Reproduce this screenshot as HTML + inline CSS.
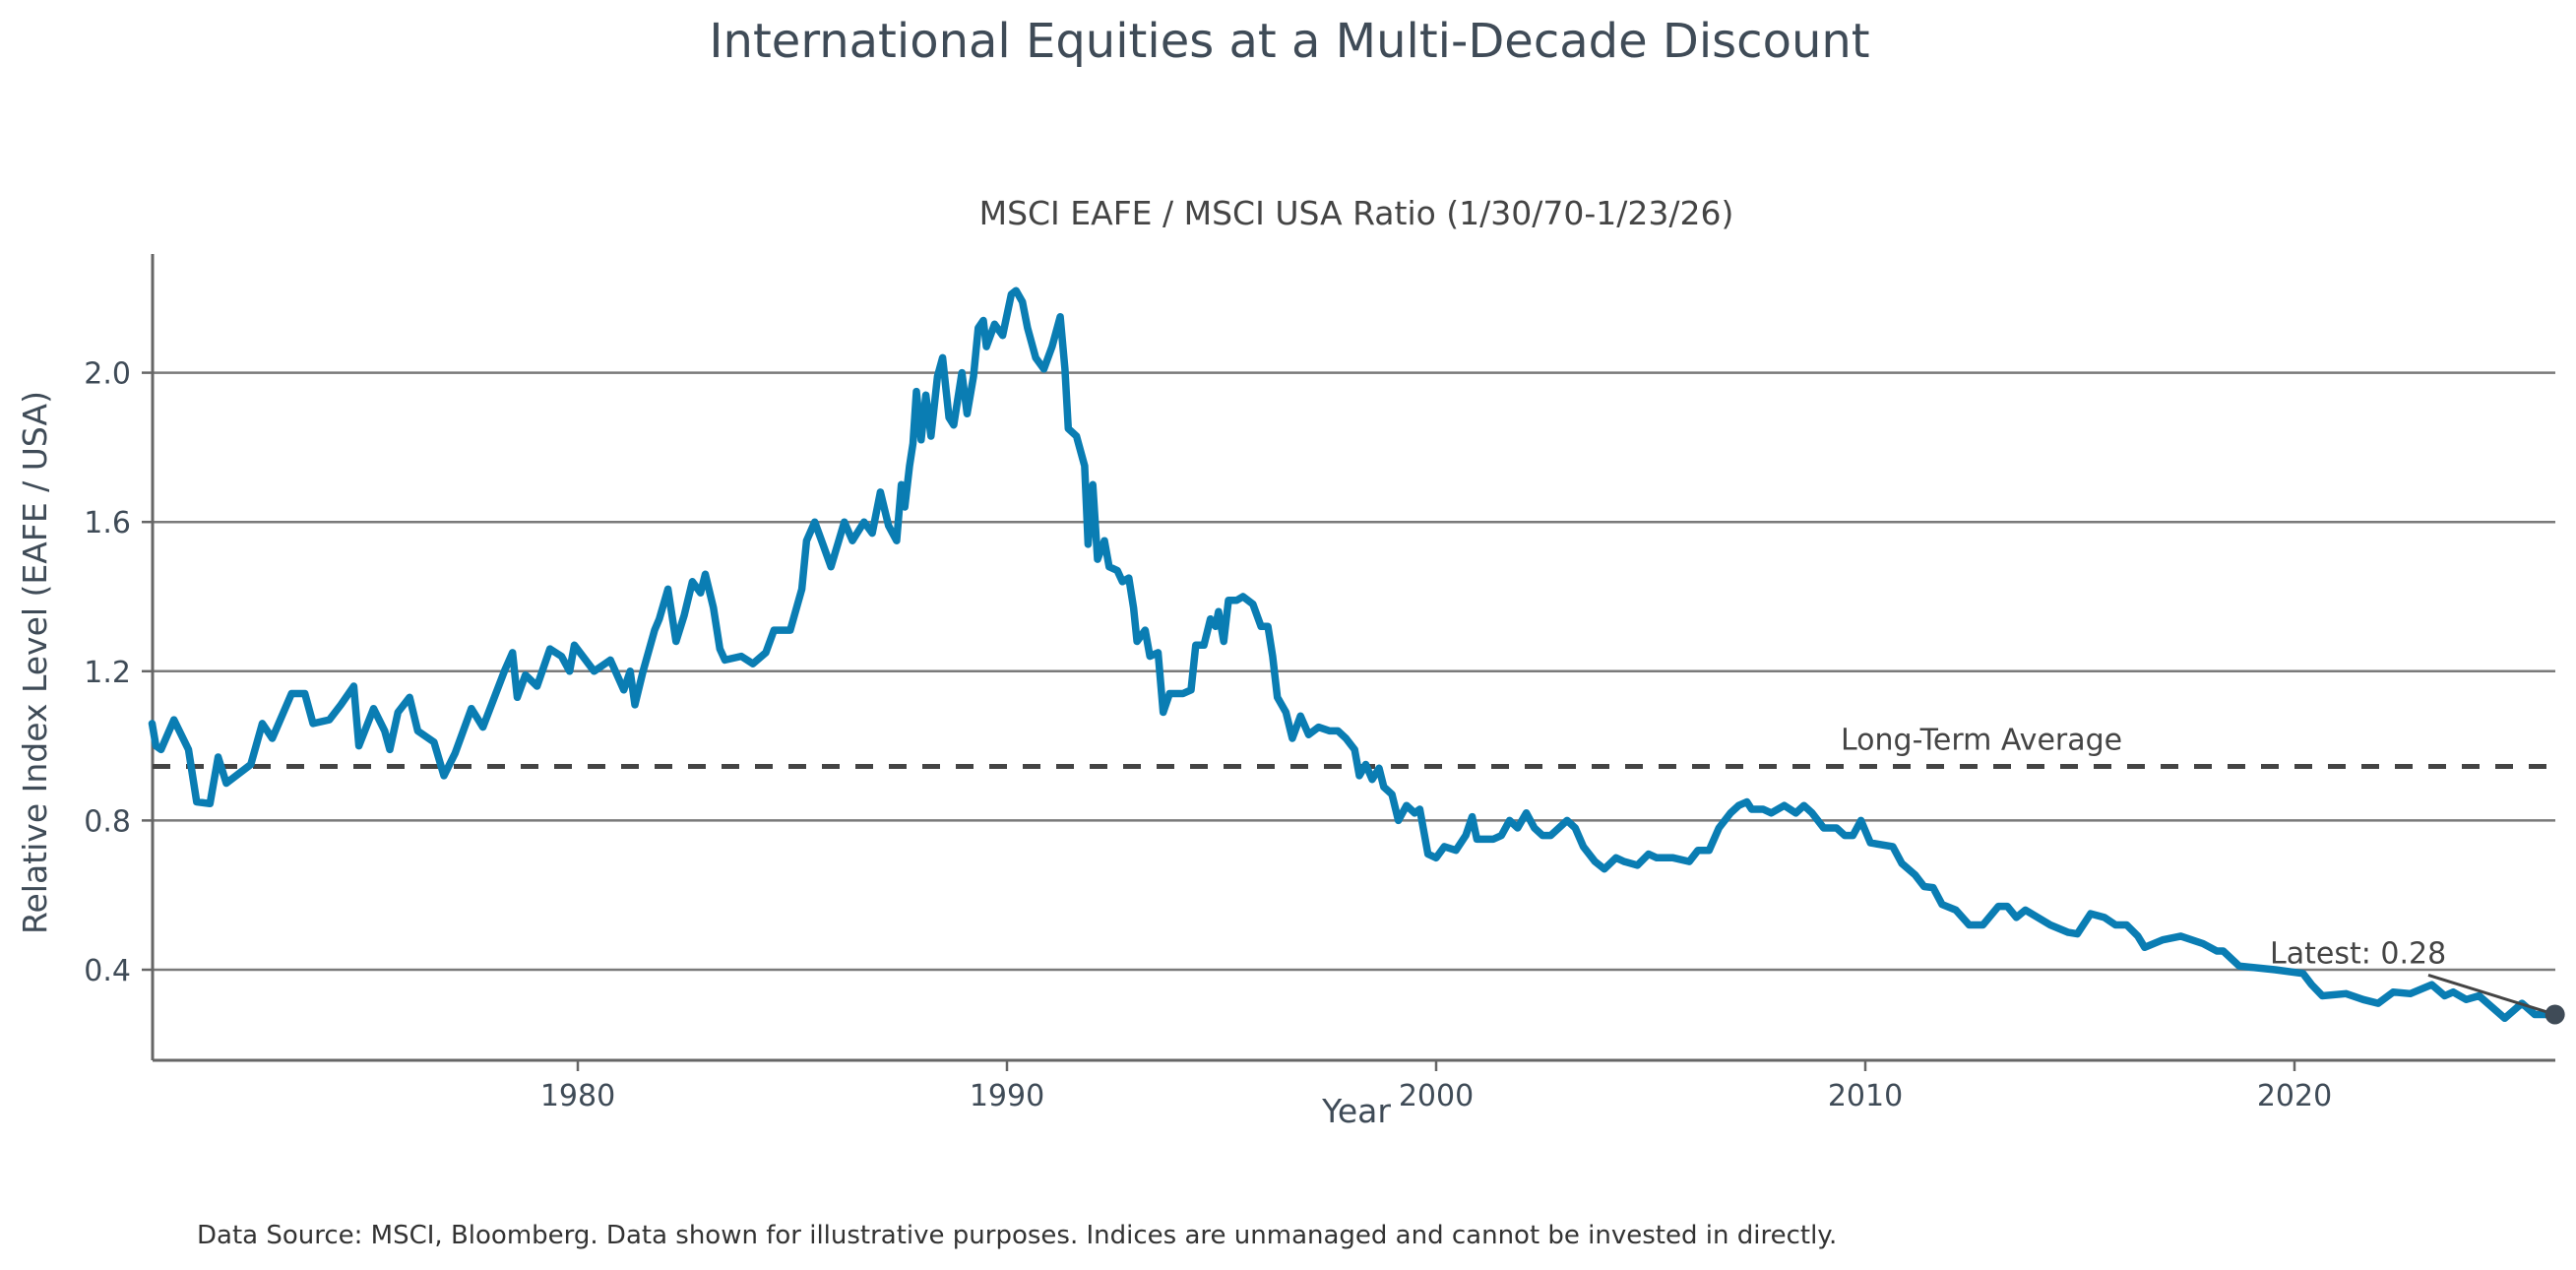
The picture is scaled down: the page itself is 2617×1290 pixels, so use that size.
<!DOCTYPE html>
<html><head><meta charset="utf-8">
<style>
html,body{margin:0;padding:0;background:#fff;}
svg{display:block;font-family:"DejaVu Sans","Liberation Sans",sans-serif;}
</style></head>
<body>
<svg id="chart" width="2617" height="1290" viewBox="0 0 2617 1290" xmlns="http://www.w3.org/2000/svg">
<rect width="2617" height="1290" fill="#fff"/>
<text x="1310" y="58" font-size="48" fill="#3f4b57" text-anchor="middle">International Equities at a Multi-Decade Discount</text>
<text x="1378" y="228" font-size="33" fill="#444" text-anchor="middle">MSCI EAFE / MSCI USA Ratio (1/30/70-1/23/26)</text>
<text x="1378" y="1140" font-size="33" fill="#3f4b57" text-anchor="middle">Year</text>
<text transform="translate(47,673) rotate(-90)" font-size="33" fill="#3f4b57" text-anchor="middle">Relative Index Level (EAFE / USA)</text>
<text x="200" y="1263" font-size="26" fill="#333">Data Source: MSCI, Bloomberg. Data shown for illustrative purposes. Indices are unmanaged and cannot be invested in directly.</text>
<g id="grid"></g>
<g id="axes"></g>
<g id="series"></g>
</svg>
<script>
const yTicks = [0.4, 0.8, 1.2, 1.6, 2.0];
const yTickLabels = ["0.4", "0.8", "1.2", "1.6", "2.0"];
const xTicks = [1980, 1990, 2000, 2010, 2020];
const xTickLabels = ["1980", "1990", "2000", "2010", "2020"];
const longTermAverage = 0.945;
const latestValue = 0.28;
const years = [1970.08,1970.17,1970.29,1970.59,1970.93,1971.12,1971.43,1971.62,1971.81,1972.38,1972.65,1972.88,1973.33,1973.64,1973.83,1974.21,1974.48,1974.78,1974.90,1975.24,1975.50,1975.62,1975.81,1976.08,1976.27,1976.65,1976.88,1977.14,1977.52,1977.79,1978.29,1978.48,1978.59,1978.78,1979.05,1979.35,1979.62,1979.81,1979.92,1980.38,1980.76,1981.07,1981.22,1981.33,1981.52,1981.79,1981.90,1982.10,1982.29,1982.48,1982.67,1982.86,1982.97,1983.16,1983.31,1983.43,1983.81,1984.08,1984.38,1984.57,1984.95,1985.22,1985.33,1985.52,1985.71,1985.90,1986.21,1986.40,1986.67,1986.86,1987.05,1987.24,1987.43,1987.54,1987.62,1987.73,1987.81,1987.89,1988.00,1988.11,1988.23,1988.38,1988.50,1988.65,1988.76,1988.95,1989.07,1989.22,1989.33,1989.45,1989.52,1989.71,1989.90,1990.10,1990.21,1990.36,1990.48,1990.67,1990.86,1991.05,1991.24,1991.35,1991.43,1991.62,1991.81,1991.89,1992.00,1992.11,1992.27,1992.38,1992.57,1992.69,1992.84,1992.95,1993.03,1993.22,1993.33,1993.52,1993.64,1993.79,1994.10,1994.29,1994.40,1994.59,1994.74,1994.86,1994.93,1995.05,1995.16,1995.35,1995.50,1995.73,1995.92,1996.08,1996.19,1996.30,1996.50,1996.65,1996.84,1997.03,1997.26,1997.52,1997.71,1997.90,1998.10,1998.21,1998.36,1998.51,1998.67,1998.78,1998.97,1999.12,1999.31,1999.50,1999.62,1999.81,2000.00,2000.19,2000.46,2000.69,2000.84,2000.95,2001.33,2001.52,2001.71,2001.90,2002.10,2002.29,2002.48,2002.67,2002.86,2003.05,2003.24,2003.43,2003.70,2003.92,2004.19,2004.38,2004.69,2004.95,2005.14,2005.52,2005.90,2006.10,2006.36,2006.59,2006.86,2007.05,2007.24,2007.35,2007.62,2007.81,2008.11,2008.38,2008.57,2008.76,2009.03,2009.33,2009.52,2009.71,2009.90,2010.12,2010.64,2010.85,2011.16,2011.37,2011.58,2011.79,2012.11,2012.42,2012.74,2013.10,2013.31,2013.52,2013.73,2014.31,2014.73,2014.94,2015.25,2015.57,2015.83,2016.09,2016.35,2016.51,2016.93,2017.35,2017.87,2018.19,2018.34,2018.71,2019.55,2020.2,2020.4,2020.65,2021.2,2021.6,2021.95,2022.3,2022.7,2023.2,2023.5,2023.7,2024.0,2024.3,2024.9,2025.3,2025.6,2026.07];
const ratios = [1.06,1.00,0.99,1.07,0.99,0.85,0.845,0.97,0.90,0.95,1.06,1.02,1.14,1.14,1.06,1.07,1.11,1.16,1.00,1.10,1.04,0.99,1.09,1.13,1.04,1.01,0.92,0.98,1.10,1.05,1.20,1.25,1.13,1.19,1.16,1.26,1.24,1.20,1.27,1.20,1.23,1.15,1.20,1.11,1.20,1.31,1.34,1.42,1.28,1.35,1.44,1.41,1.46,1.37,1.26,1.23,1.24,1.22,1.25,1.31,1.31,1.42,1.55,1.60,1.54,1.48,1.60,1.55,1.60,1.57,1.68,1.59,1.55,1.70,1.64,1.75,1.81,1.95,1.82,1.94,1.83,1.99,2.04,1.88,1.86,2.00,1.89,1.99,2.12,2.14,2.07,2.13,2.10,2.21,2.22,2.19,2.12,2.04,2.01,2.07,2.15,2.01,1.85,1.83,1.75,1.54,1.70,1.50,1.55,1.48,1.47,1.44,1.45,1.37,1.28,1.31,1.24,1.25,1.09,1.14,1.14,1.15,1.27,1.27,1.34,1.32,1.36,1.28,1.39,1.39,1.40,1.38,1.32,1.32,1.24,1.13,1.09,1.02,1.08,1.03,1.05,1.04,1.04,1.02,0.99,0.92,0.95,0.91,0.94,0.89,0.87,0.80,0.84,0.82,0.83,0.71,0.70,0.73,0.72,0.76,0.81,0.75,0.75,0.76,0.80,0.78,0.82,0.78,0.76,0.76,0.78,0.80,0.78,0.73,0.69,0.67,0.70,0.69,0.68,0.71,0.70,0.70,0.69,0.72,0.72,0.78,0.82,0.84,0.85,0.83,0.83,0.82,0.84,0.82,0.84,0.82,0.78,0.78,0.76,0.76,0.80,0.74,0.73,0.685,0.654,0.623,0.62,0.575,0.56,0.52,0.52,0.57,0.57,0.54,0.56,0.52,0.50,0.496,0.55,0.54,0.52,0.52,0.49,0.46,0.48,0.49,0.47,0.45,0.45,0.41,0.40,0.39,0.36,0.33,0.336,0.32,0.31,0.34,0.336,0.36,0.33,0.34,0.32,0.33,0.27,0.31,0.28,0.28];

const NS = "http://www.w3.org/2000/svg";
const X0 = 155, X1 = 2596, Y0 = 258, Y1 = 1077;
function xScale(year){ return 151 + (year - 1970) * 43.6; }
function yScale(v){ return 985 - (v - 0.4) * 379; }
function mk(tag, attrs, parent){
  const e = document.createElementNS(NS, tag);
  for (const k in attrs) e.setAttribute(k, attrs[k]);
  parent.appendChild(e);
  return e;
}
const grid = document.getElementById('grid');
const axes = document.getElementById('axes');
const series = document.getElementById('series');

yTicks.forEach((t, i) => {
  const y = yScale(t);
  const g = mk('line', {x1: X0, x2: X1, y1: y, y2: y, stroke: '#7a7a7a', 'stroke-width': 2.5}, grid);
  
  
  const tk = mk('line', {x1: X0 - 11, x2: X0, y1: y, y2: y, stroke: '#666', 'stroke-width': 2.5}, axes);
  
  
  const lb = mk('text', {x: X0 - 22, y: y + 11, 'font-size': 30, fill: '#3f4b57', 'text-anchor': 'end'}, axes);
  lb.textContent = yTickLabels[i];
  
  
});
xTicks.forEach((t, i) => {
  const x = xScale(t);
  const tk = mk('line', {x1: x, x2: x, y1: Y1, y2: Y1 + 11, stroke: '#666', 'stroke-width': 2.5}, axes);
  
  
  const lb = mk('text', {x: x, y: Y1 + 46, 'font-size': 30, fill: '#3f4b57', 'text-anchor': 'middle'}, axes);
  lb.textContent = xTickLabels[i];
  
  
});
const ls = mk('line', {x1: X0, x2: X0, y1: Y0, y2: Y1, stroke: '#666', 'stroke-width': 3}, axes);


const bs = mk('line', {x1: X0, x2: X1, y1: Y1, y2: Y1, stroke: '#666', 'stroke-width': 3}, axes);



const avgY = yScale(longTermAverage);
const avg = mk('line', {x1: X0, x2: X1, y1: avgY, y2: avgY, stroke: '#444', 'stroke-width': 5, 'stroke-dasharray': '18 16'}, series);


const avgT = mk('text', {x: 1870, y: avgY - 17, 'font-size': 30, fill: '#444'}, series);
avgT.textContent = 'Long-Term Average';



let d = '';
years.forEach((yr, i) => { d += (i ? 'L' : 'M') + xScale(yr).toFixed(1) + ',' + yScale(ratios[i]).toFixed(1); });
const path = mk('path', {d: d, fill: 'none', stroke: '#0a7db3', 'stroke-width': 7.5, 'stroke-linejoin': 'round', 'stroke-linecap': 'round'}, series);



const lx = xScale(years[years.length - 1]), ly = yScale(latestValue);
const arr = mk('line', {x1: 2467, y1: ly - 40, x2: lx, y2: ly, stroke: '#444', 'stroke-width': 3}, series);


const dot = mk('circle', {cx: lx, cy: ly, r: 10, fill: '#3f4b57'}, series);


const lt = mk('text', {x: 2306, y: ly - 52, 'font-size': 30, fill: '#444'}, series);
lt.textContent = 'Latest: ' + latestValue.toFixed(2);


</script>
</body></html>
